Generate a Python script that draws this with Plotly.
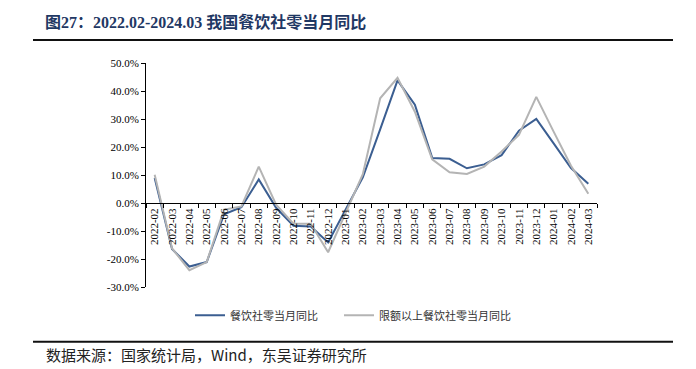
import plotly.graph_objects as go

categories = ["2022-02","2022-03","2022-04","2022-05","2022-06","2022-07","2022-08","2022-09",
              "2022-10","2022-11","2022-12","2023-01","2023-02","2023-03","2023-04","2023-05",
              "2023-06","2023-07","2023-08","2023-09","2023-10","2023-11","2023-12","2024-01",
              "2024-02","2024-03"]
catering = [8.9, -16.4, -22.7, -21.1, -4.0, -1.5, 8.4, -1.7, -8.1, -8.4, -14.1, -2.5, 9.2, 26.3,
            43.8, 35.1, 16.1, 15.8, 12.4, 13.8, 17.1, 25.8, 30.0, 21.3, 12.5, 6.9]
catering_above = [10.1, -16.2, -24.0, -21.1, -2.4, -1.2, 13.0, -0.6, -7.4, -7.4, -17.6, -3.5, 10.3,
                  37.4, 44.7, 32.6, 15.6, 11.0, 10.4, 13.0, 18.4, 24.3, 37.9, 25.5, 13.3, 3.3]
y_ticks = [-30, -20, -10, 0, 10, 20, 30, 40, 50]
series_names = ["餐饮社零当月同比", "限额以上餐饮社零当月同比"]

SERIF = "Liberation Serif, Noto Sans CJK SC"

# page offset from default body margin
OFF = 8
PAGE_W, PAGE_H = 696, 369
W, H = PAGE_W - OFF, PAGE_H - OFF
# plot area in page pixels
PL, PR, PT, PB = 146, 597, 62.5, 287.5
L = PL - OFF
T = PT - OFF
R = W - (PR - OFF)
B = H - (PB - OFF)
pw, ph = W - L - R, H - T - B

def px_x(x):
    return (x - OFF - L) / pw

def px_y(y):
    return (H - B - (y - OFF)) / ph

fig = go.Figure()
fig.add_trace(go.Scatter(x=categories, y=catering, mode="lines", name=series_names[0],
                         line=dict(color="#3B5E91", width=2), legend="legend"))
fig.add_trace(go.Scatter(x=categories, y=catering_above, mode="lines", name=series_names[1],
                         line=dict(color="#B4B4B4", width=2), legend="legend2"))

legend_common = dict(orientation="h", xanchor="left", yanchor="middle",
                     font=dict(family="Noto Sans CJK SC", size=11, color="#333333"),
                     itemwidth=30, bgcolor="rgba(0,0,0,0)", borderwidth=0)

fig.update_layout(
    width=W, height=H,
    margin=dict(l=L, r=R, t=T, b=B, pad=0, autoexpand=False),
    paper_bgcolor="white", plot_bgcolor="white",
    font=dict(family=SERIF, size=11, color="#000000"),
    showlegend=True,
    legend=dict(x=px_x(190), y=px_y(316), **legend_common),
    legend2=dict(x=px_x(339), y=px_y(316), **legend_common),
    xaxis=dict(type="category", categoryorder="array", categoryarray=categories,
               range=[-0.5, len(categories) - 0.5],
               anchor="free", position=30 / 80,
               showline=True, linecolor="#000000", linewidth=1,
               ticks="outside", ticklen=4, tickcolor="#000000", tickson="boundaries",
               tickangle=-90, showgrid=False, zeroline=False,
               tickfont=dict(family=SERIF, size=11, color="#000000")),
    yaxis=dict(range=[-30, 50], tickvals=y_ticks, ticktext=[f"{v:.1f}%" for v in y_ticks],
               showline=True, linecolor="#000000", linewidth=1,
               ticks="outside", ticklen=4, tickcolor="#000000",
               showgrid=False, zeroline=False,
               tickfont=dict(family=SERIF, size=11, color="#000000")),
)

fig.add_shape(type="line", xref="paper", yref="paper", x0=px_x(33), x1=px_x(673),
              y0=px_y(39.5), y1=px_y(39.5), line=dict(color="#111111", width=2))
fig.add_shape(type="line", xref="paper", yref="paper", x0=px_x(33), x1=px_x(673),
              y0=px_y(342.5), y1=px_y(342.5), line=dict(color="#111111", width=2))

fig.add_annotation(xref="paper", yref="paper", x=px_x(43), y=px_y(21), xanchor="left", yanchor="middle",
                   text="<b>图27：2022.02-2024.03 我国餐饮社零当月同比</b>", showarrow=False,
                   font=dict(family=SERIF, size=16, color="#1F3864"))
fig.add_annotation(xref="paper", yref="paper", x=px_x(44), y=px_y(368), xanchor="left", yanchor="bottom",
                   text="数据来源：国家统计局，Wind，东吴证券研究所", showarrow=False,
                   font=dict(family="Noto Sans CJK SC", size=15, color="#222222"))

fig.write_html("out.html")
